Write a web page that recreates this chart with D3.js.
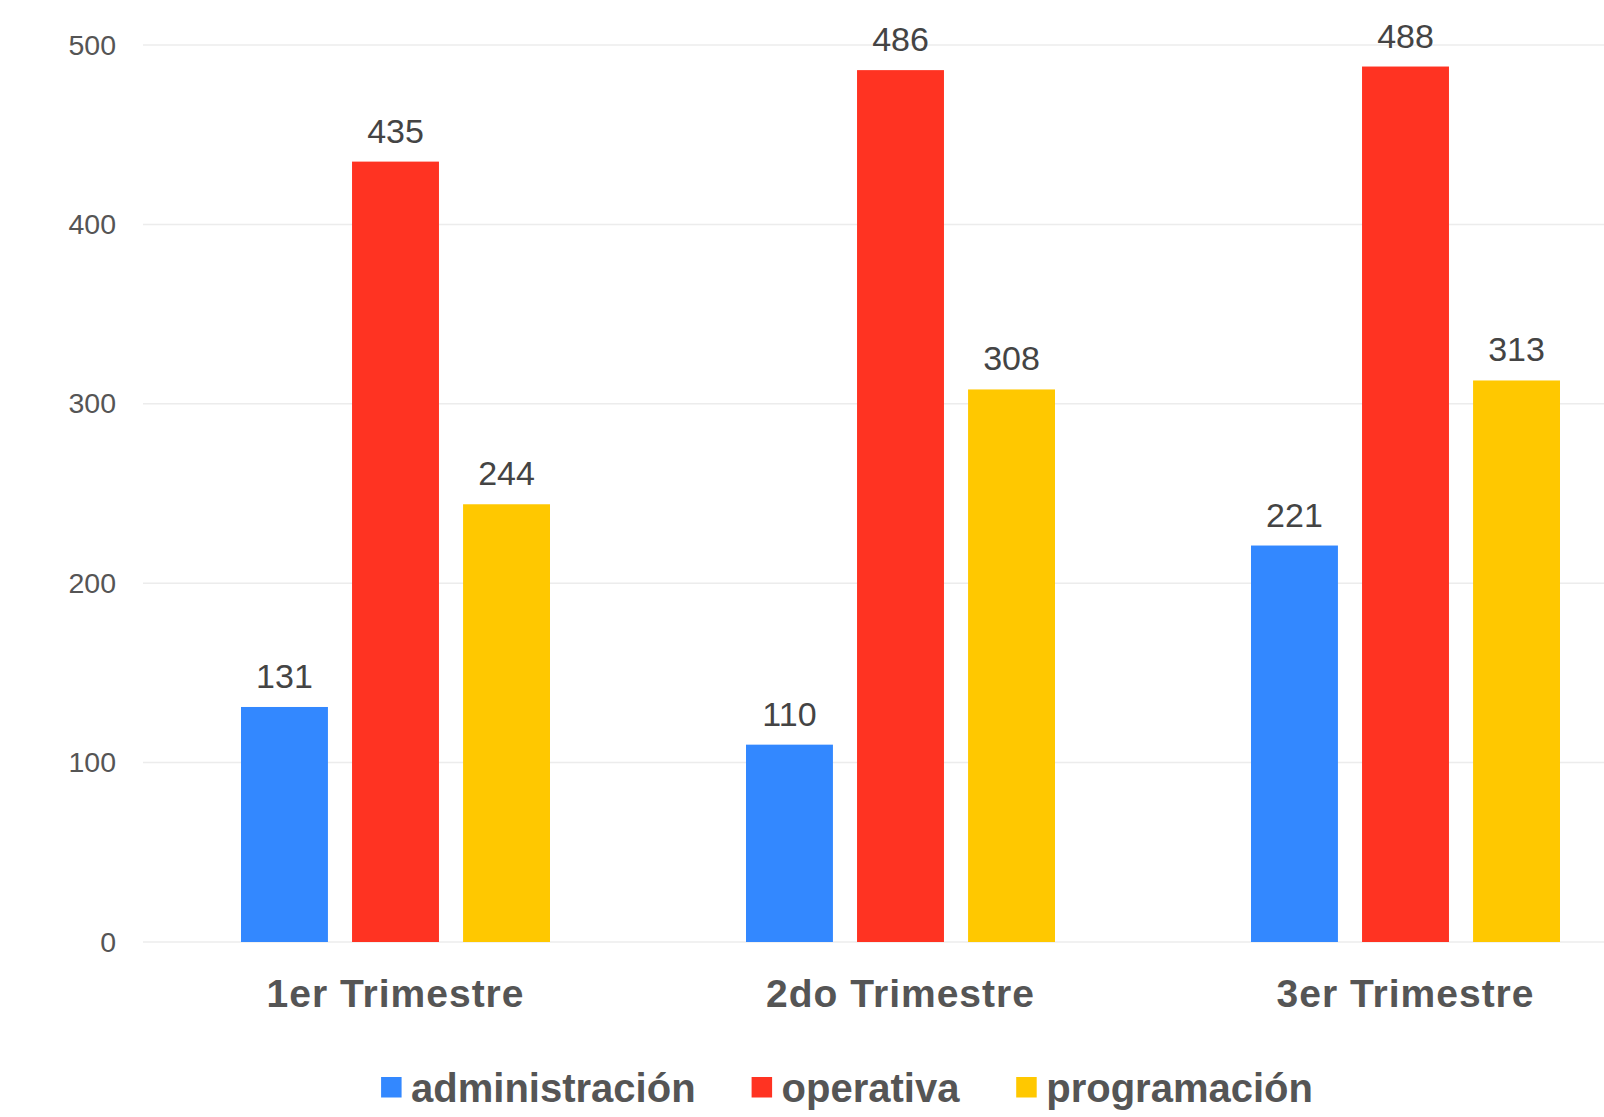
<!DOCTYPE html>
<html>
<head>
<meta charset="utf-8">
<script src="https://cdn.jsdelivr.net/npm/d3@7"></script>
<style>
  body { margin: 0; background: #fff; }
  svg text { font-family: "Liberation Sans", Arial, sans-serif; }
</style>
</head>
<body>
<div id="chart"></div>
<script>
// data
const categories = ["1er Trimestre", "2do Trimestre", "3er Trimestre"];
const series = ["administración", "operativa", "programación"];
const administracion = [131, 110, 221];
const operativa = [435, 486, 488];
const programacion = [244, 308, 313];
const yTicks = [0, 100, 200, 300, 400, 500];
const colors = ["#3388ff", "#ff3322", "#ffc800"];

const valuesBySeries = [administracion, operativa, programacion];

const W = 1604, H = 1117;
const svg = d3.select("#chart").append("svg")
    .attr("width", W)
    .attr("height", H);

const yScale = d3.scaleLinear().domain([0, 500]).range([942, 45]);
const x0 = d3.scaleBand().domain(categories).range([143, 1658]);
const x1 = d3.scaleBand().domain(series).range([-154.5, 154.5]).paddingInner(0.217);

// grid
svg.append("g").selectAll("line")
    .data(yTicks)
    .enter().append("line")
    .attr("x1", 143).attr("x2", W)
    .attr("y1", d => yScale(d)).attr("y2", d => yScale(d))
    .attr("stroke", "#ececec")
    .attr("stroke-width", 1.5);

// y axis labels
let yAxis = d3.axisLeft(yScale).tickValues(yTicks).tickSize(0).tickPadding(0);
let gy = svg.append("g")
    .attr("transform", "translate(116,0)")
    .call(yAxis);
gy.select(".domain").remove();
gy.selectAll("text")
    .attr("font-size", 28.5)
    .attr("fill", "#555")
    .attr("font-family", "Liberation Sans, Arial, sans-serif");

// bars
let groups = svg.selectAll(".grp")
    .data(categories)
    .enter().append("g")
    .attr("class", "grp")
    .attr("transform", d => "translate(" + (x0(d) + x0.bandwidth() / 2) + ",0)");

groups.selectAll("rect")
    .data((c, ci) => series.map((s, si) => ({s: s, si: si, v: valuesBySeries[si][ci]})))
    .enter().append("rect")
    .attr("x", d => x1(d.s))
    .attr("width", x1.bandwidth())
    .attr("y", d => yScale(d.v))
    .attr("height", d => yScale(0) - yScale(d.v))
    .attr("fill", d => colors[d.si]);

groups.selectAll(".val")
    .data((c, ci) => series.map((s, si) => ({s: s, si: si, v: valuesBySeries[si][ci]})))
    .enter().append("text")
    .attr("class", "val")
    .attr("x", d => x1(d.s) + x1.bandwidth() / 2)
    .attr("y", d => yScale(d.v) - 19)
    .attr("text-anchor", "middle")
    .attr("font-size", 34)
    .attr("fill", "#444")
    .text(d => d.v);

// category labels
let xAxis = d3.axisBottom(x0).tickSize(0).tickPadding(0);
let gx = svg.append("g")
    .attr("transform", "translate(0,1007)")
    .call(xAxis);
gx.select(".domain").remove();
gx.selectAll("text")
    .attr("dy", 0)
    .attr("font-size", 39)
    .attr("font-weight", "bold")
    .attr("letter-spacing", 1)
    .attr("fill", "#555")
    .attr("font-family", "Liberation Sans, Arial, sans-serif");

// legend
let legend = svg.append("g").attr("class", "legend");
let items = legend.selectAll("g")
    .data(series)
    .enter().append("g");
items.append("rect")
    .attr("width", 20.5).attr("height", 20.5)
    .attr("y", 1077)
    .attr("fill", (d, i) => colors[i]);
items.append("text")
    .attr("x", 30)
    .attr("y", 1102)
    .attr("font-size", 40)
    .attr("font-weight", "bold")
    .attr("fill", "#555")
    .text(d => d);

let widths = [];
items.each(function() { widths.push(this.getBBox().width); });
let gap = 56;
let total = d3.sum(widths) + gap * (widths.length - 1);
let cx = 847;
let start = cx - total / 2;
items.attr("transform", (d, i) => {
    let off = start + d3.sum(widths.slice(0, i)) + gap * i;
    return "translate(" + off + ",0)";
});
</script>
</body>
</html>
